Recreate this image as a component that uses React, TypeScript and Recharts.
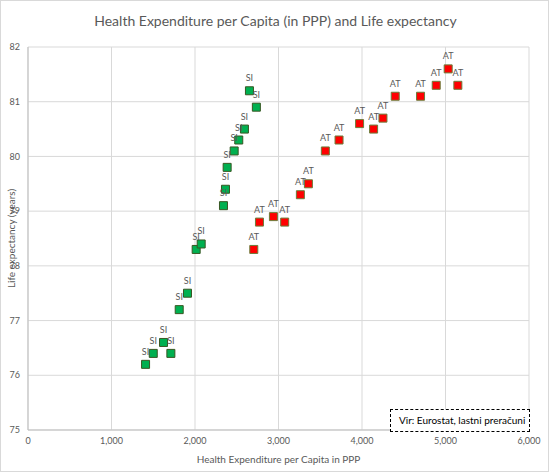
import React from 'react';
import {
  ScatterChart,
  Scatter,
  XAxis,
  YAxis,
  ZAxis,
  CartesianGrid,
  LabelList,
  Label,
} from 'recharts';

const siSpend = [1408, 1500, 1623, 1711, 1811, 1910, 2014, 2074, 2341, 2365, 2385, 2469, 2524, 2592, 2735, 2652];
const siLife = [76.2, 76.4, 76.6, 76.4, 77.2, 77.5, 78.3, 78.4, 79.1, 79.4, 79.8, 80.1, 80.3, 80.5, 80.9, 81.2];

const atSpend = [2704, 2772, 2939, 3074, 3262, 3358, 3561, 3725, 3971, 4139, 4251, 4398, 4701, 4889, 5032, 5148];
const atLife = [78.3, 78.8, 78.9, 78.8, 79.3, 79.5, 80.1, 80.3, 80.6, 80.5, 80.7, 81.1, 81.1, 81.3, 81.6, 81.3];

const xTicks = [0, 1000, 2000, 3000, 4000, 5000, 6000];
const yTicks = [75, 76, 77, 78, 79, 80, 81, 82];

const siData = siSpend.map((x, i) => ({ x, y: siLife[i], name: 'SI' }));
const atData = atSpend.map((x, i) => ({ x, y: atLife[i], name: 'AT' }));

const font = 'Lato, "Open Sans", sans-serif';
const grey = '#595959';

export default function App() {
  return (
    <div
      style={{
        position: 'absolute',
        left: 0,
        top: 0,
        width: 549,
        height: 472,
        boxSizing: 'border-box',
        border: '1px solid #d9d9d9',
        background: '#fff',
        fontFamily: font,
      }}
    >
      <div
        style={{
          position: 'absolute',
          top: 11,
          left: 0,
          width: 549,
          textAlign: 'center',
          fontSize: 14,
          color: grey,
        }}
      >
        Health Expenditure per Capita (in PPP) and Life expectancy
      </div>
      <ScatterChart
        width={547}
        height={470}
        margin={{ top: 46, right: 19, left: 0, bottom: 0 }}
        style={{ position: 'absolute', left: 0, top: 0 }}
      >
        <CartesianGrid stroke="#d9d9d9" />
        <XAxis
          type="number"
          dataKey="x"
          domain={[0, 6000]}
          ticks={xTicks}
          tickFormatter={(v: number) => v.toLocaleString('en-US')}
          tickLine={false}
          axisLine={{ stroke: '#bfbfbf' }}
          tick={{ fontSize: 9, fill: grey, fontFamily: font }}
          height={41}
        >
          <Label
            value="Health Expenditure per Capita in PPP"
            position="insideBottom"
            offset={8}
            style={{ fontSize: 10, fill: grey, fontFamily: font }}
          />
        </XAxis>
        <YAxis
          type="number"
          dataKey="y"
          domain={[75, 82]}
          ticks={yTicks}
          tickLine={false}
          axisLine={{ stroke: '#bfbfbf' }}
          tick={{ fontSize: 9, fill: grey, fontFamily: font }}
          width={27}
        >
          <Label
            value="Life expectancy (years)"
            angle={-90}
            position="center"
            dx={-3}
            style={{ fontSize: 10, fill: grey, fontFamily: font, textAnchor: 'middle' }}
          />
        </YAxis>
        <ZAxis range={[72, 72]} />
        <Scatter
          data={siData}
          shape="square"
          fill="#00B050"
          stroke="#385723"
          strokeWidth={1}
          isAnimationActive={false}
        >
          <LabelList
            dataKey="name"
            position="top"
            offset={5}
            style={{ fontSize: 9, fill: grey, fontFamily: font }}
          />
        </Scatter>
        <Scatter
          data={atData}
          shape="square"
          fill="#FF0000"
          stroke="#6B7D3A"
          strokeWidth={1}
          isAnimationActive={false}
        >
          <LabelList
            dataKey="name"
            position="top"
            offset={5}
            style={{ fontSize: 9, fill: grey, fontFamily: font }}
          />
        </Scatter>
      </ScatterChart>
      <div
        style={{
          position: 'absolute',
          left: 389,
          top: 408,
          width: 140,
          height: 23,
          boxSizing: 'border-box',
          border: '1px dashed #000',
          fontSize: 10,
          color: '#000',
          lineHeight: '21px',
          paddingLeft: 8,
          background: '#fff',
        }}
      >
        Vir: Eurostat, lastni preračuni
      </div>
    </div>
  );
}
